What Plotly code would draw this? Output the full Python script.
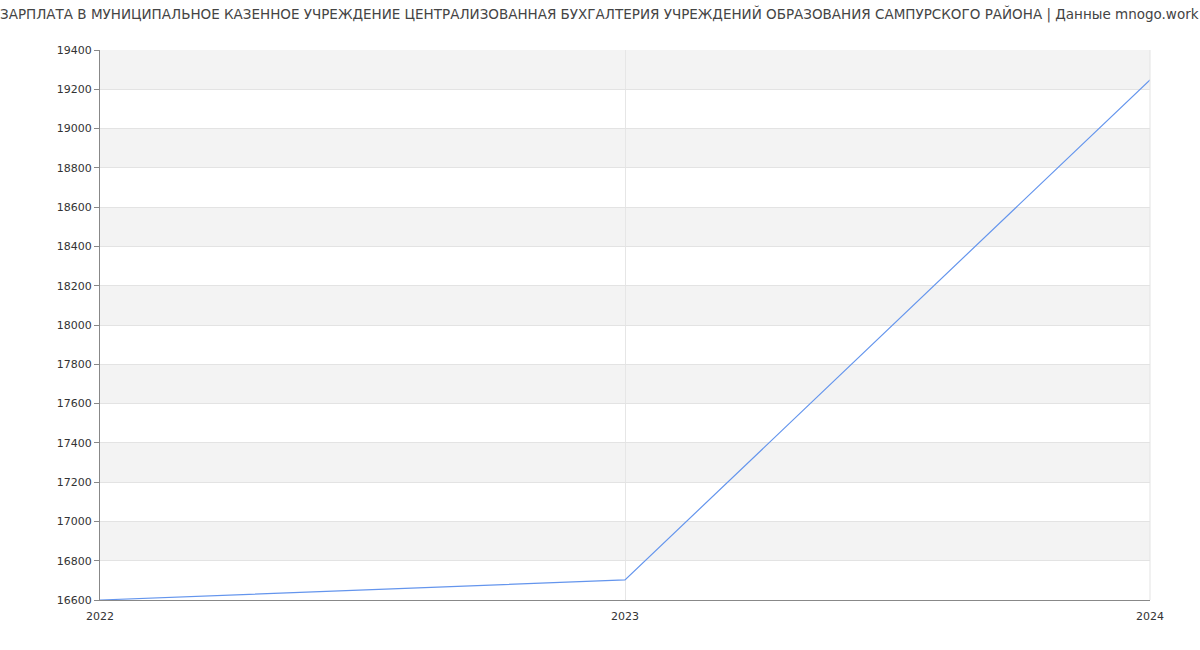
import plotly.graph_objects as go

years = ["2022", "2023", "2024"]
salary = [16600, 16702, 19248]
y_ticks = list(range(16600, 19401, 200))
y_labels = [str(v) for v in y_ticks]
title = "ЗАРПЛАТА В МУНИЦИПАЛЬНОЕ КАЗЕННОЕ УЧРЕЖДЕНИЕ ЦЕНТРАЛИЗОВАННАЯ БУХГАЛТЕРИЯ УЧРЕЖДЕНИЙ ОБРАЗОВАНИЯ САМПУРСКОГО РАЙОНА | Данные mnogo.work"

x_vals = [int(y) for y in years]

fig = go.Figure()
fig.add_trace(go.Scatter(x=x_vals, y=salary, mode="lines",
                         line=dict(color="#6495ED", width=1.2), hoverinfo="x+y"))

shapes = []
for i in range(len(y_ticks) - 1):
    if (len(y_ticks) - 2 - i) % 2 == 0:
        shapes.append(dict(type="rect", xref="paper", yref="y", x0=0, x1=1,
                           y0=y_ticks[i], y1=y_ticks[i + 1],
                           fillcolor="#f3f3f3", line=dict(width=0), layer="below"))

fig.update_layout(
    width=1200, height=650,
    margin=dict(l=100, r=50, t=50, b=50),
    paper_bgcolor="white", plot_bgcolor="white",
    font=dict(family="DejaVu Sans", color="#333", size=11),
    title=dict(text=title, x=0.0, xanchor="left", y=0.985, yanchor="top",
               font=dict(size=13.5, color="#444", family="DejaVu Sans")),
    shapes=shapes,
    showlegend=False,
    xaxis=dict(range=[2022, 2024], tickvals=x_vals, ticktext=years,
               showgrid=True, gridcolor="#e6e6e6", gridwidth=1,
               showline=True, linecolor="#888", linewidth=1,
               ticks="outside", ticklen=6, tickcolor="rgba(0,0,0,0)",
               zeroline=False, tickfont=dict(size=11, color="#333")),
    yaxis=dict(range=[16600, 19400], tickvals=y_ticks, ticktext=y_labels,
               showgrid=True, gridcolor="#e3e3e3", gridwidth=1,
               showline=True, linecolor="#888", linewidth=1,
               ticks="outside", ticklen=5, tickcolor="#888",
               zeroline=False, tickfont=dict(size=11, color="#333")),
)
fig.add_shape(type="line", xref="paper", yref="paper", x0=1, x1=1, y0=0, y1=1,
              line=dict(color="#e3e3e3", width=1))

fig.write_html("out.html")
